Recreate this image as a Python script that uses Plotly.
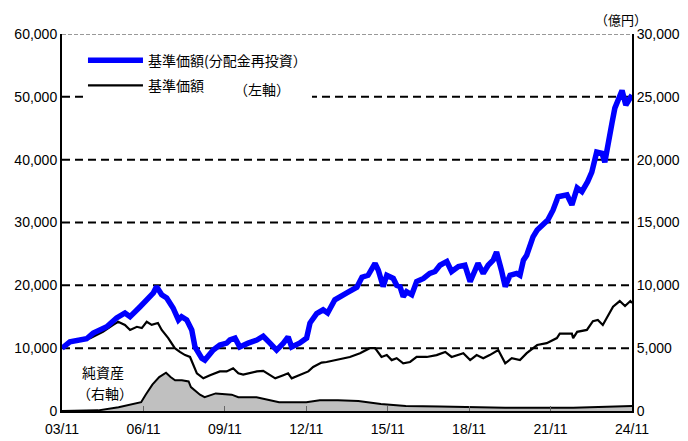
import plotly.graph_objects as go

# 基準価額(分配金再投資) - left axis
reinv_dates = ["2003-11-01","2004-02-15","2004-09-27","2004-12-25","2005-06-25","2005-11-05","2006-02-25","2006-05-05",
               "2006-09-17","2007-01-05","2007-03-15","2007-04-27","2007-07-05","2007-09-10","2007-12-05","2008-02-15",
               "2008-03-28","2008-06-05","2008-08-12","2008-09-25","2008-12-25","2009-02-05","2009-05-28","2009-08-25",
               "2009-11-25","2010-01-08","2010-03-18","2010-05-20","2010-07-05","2010-09-10","2011-01-05","2011-04-01",
               "2011-07-01","2011-09-28","2011-12-28","2012-03-01","2012-04-18","2012-08-01","2012-11-05","2012-12-20",
               "2013-03-20","2013-06-15","2013-08-15","2013-11-20","2014-04-30","2014-09-12","2014-11-20","2015-02-10",
               "2015-05-15","2015-06-28","2015-09-01","2015-10-20","2016-01-15","2016-03-01","2016-04-15","2016-05-28",
               "2016-07-12","2016-09-20","2016-11-25","2017-02-25","2017-05-20","2017-07-30","2017-10-05","2018-01-05",
               "2018-03-10","2018-06-10","2018-09-05","2018-11-15","2019-01-20","2019-03-01","2019-05-10","2019-07-15",
               "2019-09-20","2019-11-05","2020-01-10","2020-03-01","2020-05-05","2020-08-01","2020-09-15","2020-11-01",
               "2020-12-15","2021-03-10","2021-05-05","2021-07-20","2021-09-25","2021-12-05","2022-02-10","2022-06-10",
               "2022-08-15","2022-10-25","2022-12-28","2023-03-15","2023-05-10","2023-07-15","2023-09-25","2023-11-01",
               "2023-12-15","2024-02-05","2024-03-15","2024-05-20","2024-06-20","2024-08-10","2024-09-20","2024-11-01"]
reinv_vals = [10000,11000,11500,12400,13400,14800,15600,15000,
              16600,18000,18800,19800,18500,18000,16400,14500,
              15000,14500,12900,10200,8400,8100,9700,10500,
              10800,11300,11600,10200,10500,10800,11300,11900,
              10800,9700,10800,11800,10200,10800,11600,14000,
              15500,16100,15600,17700,18800,19700,21300,21600,
              23500,22400,19800,21600,21100,20000,19800,18200,
              19000,18500,20600,21100,21900,22200,23200,23800,
              22200,23000,23200,20600,22400,23500,21900,23200,
              24000,25300,22400,19800,21600,21900,21600,24000,
              24800,27700,28800,29800,30400,32000,34100,34400,
              32800,35500,34900,36500,38000,41200,41000,39600,
              42000,45800,48200,49800,51000,48700,49500,50300]

# 基準価額 - left axis
nav_dates = ["2003-11-01","2004-02-15","2004-11-15","2005-05-05","2005-09-20","2005-11-25","2006-02-25","2006-05-05",
             "2006-08-05","2006-10-10","2006-12-15","2007-02-20","2007-05-15","2007-07-05","2007-10-01","2007-12-28",
             "2008-03-05","2008-05-15","2008-07-20","2008-09-01","2008-10-20","2009-01-15","2009-04-15","2009-08-25",
             "2009-11-25","2010-02-20","2010-05-01","2010-07-05","2011-01-05","2011-04-01","2011-07-01","2011-09-10",
             "2011-12-28","2012-03-01","2012-04-18","2012-08-01","2012-11-28","2013-02-01","2013-05-25","2013-08-01",
             "2013-12-15","2014-06-10","2014-10-25","2015-01-05","2015-03-05","2015-05-15","2015-08-10","2015-10-20",
             "2015-12-25","2016-03-01","2016-05-28","2016-08-28","2016-11-25","2017-04-10","2017-08-20","2017-12-15",
             "2018-03-10","2018-08-15","2018-11-15","2019-02-10","2019-05-10","2019-08-05","2019-11-28","2020-03-01",
             "2020-05-28","2020-09-15","2020-12-15","2021-05-05","2021-09-10","2022-01-25","2022-03-05","2022-08-15",
             "2022-09-01","2022-10-25","2023-03-05","2023-05-25","2023-07-30","2023-10-05","2024-02-20","2024-05-20",
             "2024-07-30","2024-10-10","2024-11-01"]
nav_vals = [10000,11000,11600,12600,13700,14200,13700,12900,
            13400,13200,14200,13700,14000,12900,11600,10000,
            9400,8900,8600,7300,6000,5200,5700,6300,
            6300,6800,6000,5800,6300,6400,5700,5200,
            5700,6000,5200,5700,6300,7000,7700,7800,
            8100,8600,9200,9700,10000,10000,8600,8900,
            8100,8400,7600,7800,8600,8600,8900,9400,
            8600,9200,8100,8900,8400,8900,9700,7600,
            8400,8100,9200,10500,10800,11600,12300,12300,
            11600,12600,12900,14300,14500,13700,16600,17500,
            16700,17500,17200]

# 純資産 (億円) - right axis
assets_dates = ["2003-11","2004-06","2005-03","2005-12","2006-05","2006-10","2006-12","2007-03","2007-06","2007-09",
                "2007-11","2008-01","2008-04","2008-07","2008-08","2008-12","2009-02","2009-07","2010-02","2010-05",
                "2011-01","2011-11","2012-11","2013-05","2014-01","2014-10","2015-08","2016-07","2017-10","2020-03",
                "2022-09","2024-11"]
assets_vals = [0,20,50,300,500,700,1300,2100,2700,3050,
               2700,2450,2450,2350,1900,1300,1100,1400,1300,1100,
               1100,700,700,850,850,800,550,400,350,250,
               250,400]

left_ticks = [0,10000,20000,30000,40000,50000,60000]
right_ticks = [0,5000,10000,15000,20000,25000,30000]
grid_levels = [10000,20000,30000,40000,50000]

num_font = "Liberation Sans, Arial, sans-serif"
jp_font = "Noto Sans CJK JP, sans-serif"

fig = go.Figure()
fig.add_trace(go.Scatter(x=assets_dates, y=assets_vals, yaxis="y2", mode="lines",
                         fill="tozeroy", fillcolor="#c0c0c0",
                         line=dict(color="black", width=2), showlegend=False, name="純資産"))
fig.add_trace(go.Scatter(x=nav_dates, y=nav_vals, mode="lines", name="基準価額",
                         line=dict(color="black", width=2.2), legendrank=2, legendgroup="b"))
fig.add_trace(go.Scatter(x=reinv_dates, y=reinv_vals, mode="lines", name="基準価額(分配金再投資）",
                         line=dict(color="#0000ff", width=5.5), legendrank=1, legendgroup="a"))

for v in grid_levels:
    fig.add_hline(y=v, line=dict(color="black", width=2, dash="8px,5px"), layer="below")
fig.add_hline(y=60000, line=dict(color="#999999", width=2, dash="4px,2px"), layer="below")

fig.update_layout(
    width=688, height=441,
    margin=dict(l=54, r=64, t=26, b=38, autoexpand=False),
    paper_bgcolor="white", plot_bgcolor="white",
    font=dict(family=num_font, size=14, color="black"),
    legend=dict(x=0.0368, y=0.972, xanchor="left", yanchor="top", bgcolor="white",
                font=dict(family=jp_font, size=14), itemwidth=55, tracegroupgap=4),
    xaxis=dict(type="date", range=["2003-11-01", "2024-11-01"], tick0="2003-11-01", dtick="M36",
               tickformat="%y/%m", ticks="inside", ticklen=5, tickcolor="#666666",
               showline=True, linecolor="black", linewidth=2, showgrid=False, zeroline=False,
               automargin=False, ticklabelstandoff=4, tickfont=dict(family=num_font, size=14)),
    yaxis=dict(range=[0, 60000], tickvals=left_ticks, tickformat=",", showline=True, automargin=False,
               linecolor="black", linewidth=2, showgrid=False, zeroline=False, ticks=""),
    yaxis2=dict(range=[0, 30000], tickvals=right_ticks, tickformat=",", overlaying="y", side="right",
                automargin=False,
                showline=True, linecolor="black", linewidth=2, showgrid=False, zeroline=False, ticks=""),
    annotations=[
        dict(text="（左軸）", x=0.35, y=0.853, xref="paper", yref="paper", showarrow=False,
             xanchor="center", yanchor="middle",
             font=dict(family=jp_font, size=14), bgcolor="white"),
        dict(text="（億円）", x=0.98, y=1.069, xref="paper", yref="paper", showarrow=False,
             xanchor="center", yanchor="top", font=dict(family=jp_font, size=13)),
        dict(text="純資産", x=0.0316, y=0.1034, xref="paper", yref="paper", showarrow=False,
             xanchor="left", yanchor="middle", font=dict(family=jp_font, size=14)),
        dict(text="（右軸）", x=0.0228, y=0.0477, xref="paper", yref="paper", showarrow=False,
             xanchor="left", yanchor="middle", font=dict(family=jp_font, size=14)),
    ],
)

fig.write_html("out.html")
